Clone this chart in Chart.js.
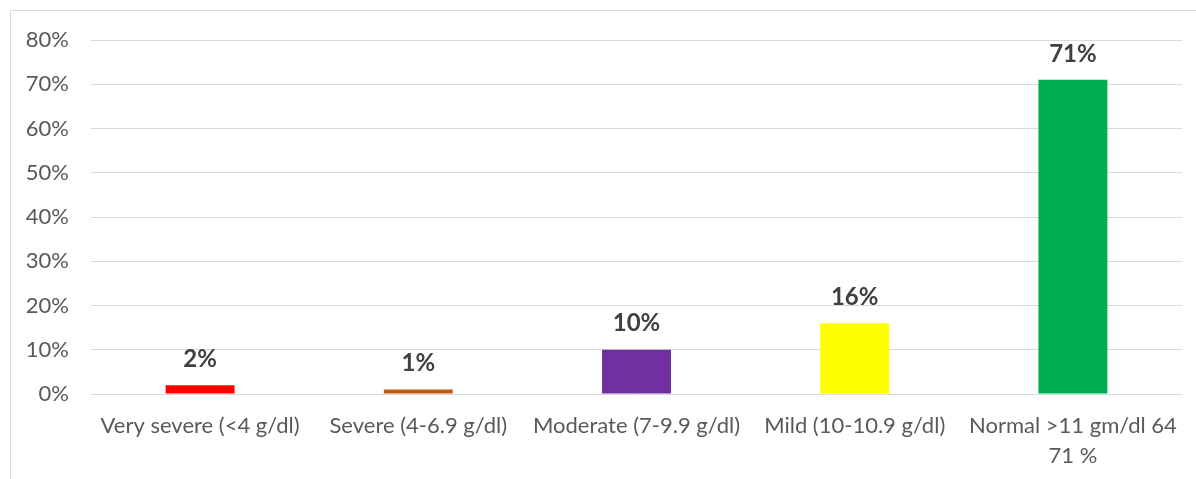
<!DOCTYPE html>
<html>
<head>
<meta charset="utf-8">
<script src="https://cdn.jsdelivr.net/npm/chart.js@4"></script>
<style>
html,body{margin:0;padding:0;background:#fff;}
#wrap{position:relative;width:1196px;height:479px;}
</style>
</head>
<body>
<div id="wrap"><canvas id="c" width="1196" height="479"></canvas></div>
<script>
const categories = [
  "Very severe (<4 g/dl)",
  "Severe (4-6.9 g/dl)",
  "Moderate (7-9.9 g/dl)",
  "Mild (10-10.9 g/dl)",
  ["Normal >11 gm/dl 64", "71 %"]
];
const values = [2, 1, 10, 16, 71];
const valueLabels = ["2%", "1%", "10%", "16%", "71%"];
const barColors = ["#ff0000", "#c55a11", "#7030a0", "#ffff00", "#00b050"];
const yTicks = [0, 10, 20, 30, 40, 50, 60, 70, 80];

const FONT = "Lato, 'Open Sans', sans-serif";

const borderPlugin = {
  id: 'outerBorder',
  beforeDraw(chart) {
    const ctx = chart.ctx;
    ctx.save();
    ctx.fillStyle = '#fff';
    ctx.fillRect(0, 0, chart.width, chart.height);
    ctx.strokeStyle = '#d9d9d9';
    ctx.lineWidth = 1;
    ctx.beginPath();
    ctx.moveTo(10.5, chart.height + 5);
    ctx.lineTo(10.5, 10.5);
    ctx.lineTo(chart.width + 5, 10.5);
    ctx.stroke();
    ctx.restore();
  }
};

const valueLabelPlugin = {
  id: 'valueLabels',
  afterDatasetsDraw(chart) {
    const ctx = chart.ctx;
    const meta = chart.getDatasetMeta(0);
    ctx.save();
    ctx.font = "bold 24px " + FONT;
    ctx.fillStyle = '#404040';
    ctx.textAlign = 'center';
    ctx.textBaseline = 'middle';
    meta.data.forEach((bar, i) => {
      ctx.fillText(valueLabels[i], bar.x, bar.y - 26);
    });
    ctx.restore();
  }
};

new Chart(document.getElementById('c'), {
  type: 'bar',
  data: {
    labels: categories,
    datasets: [{
      data: values,
      backgroundColor: barColors,
      borderWidth: 0,
      categoryPercentage: 1,
      barPercentage: 0.316
    }]
  },
  options: {
    responsive: false,
    animation: false,
    devicePixelRatio: 1,
    layout: { padding: { top: 40, right: 14, left: 0, bottom: 0 } },
    plugins: { legend: { display: false }, tooltip: { enabled: false } },
    scales: {
      x: {
        grid: { display: false, drawTicks: false },
        border: { display: false },
        ticks: {
          color: '#595959',
          font: { family: FONT, size: 22, lineHeight: 1.36 },
          padding: 17,
          maxRotation: 0,
          autoSkip: false
        },
        afterFit(scale) { scale.height = 479 - 394; }
      },
      y: {
        min: 0,
        max: 80,
        afterBuildTicks(scale) { scale.ticks = yTicks.map(v => ({ value: v })); },
        grid: { color: '#d9d9d9', lineWidth: 1, drawTicks: false },
        border: { display: false },
        ticks: {
          color: '#595959',
          font: { family: FONT, size: 22 },
          padding: 22,
          callback: v => v + '%'
        },
        afterFit(scale) { scale.width = 91; }
      }
    }
  },
  plugins: [borderPlugin, valueLabelPlugin]
});
</script>
</body>
</html>
